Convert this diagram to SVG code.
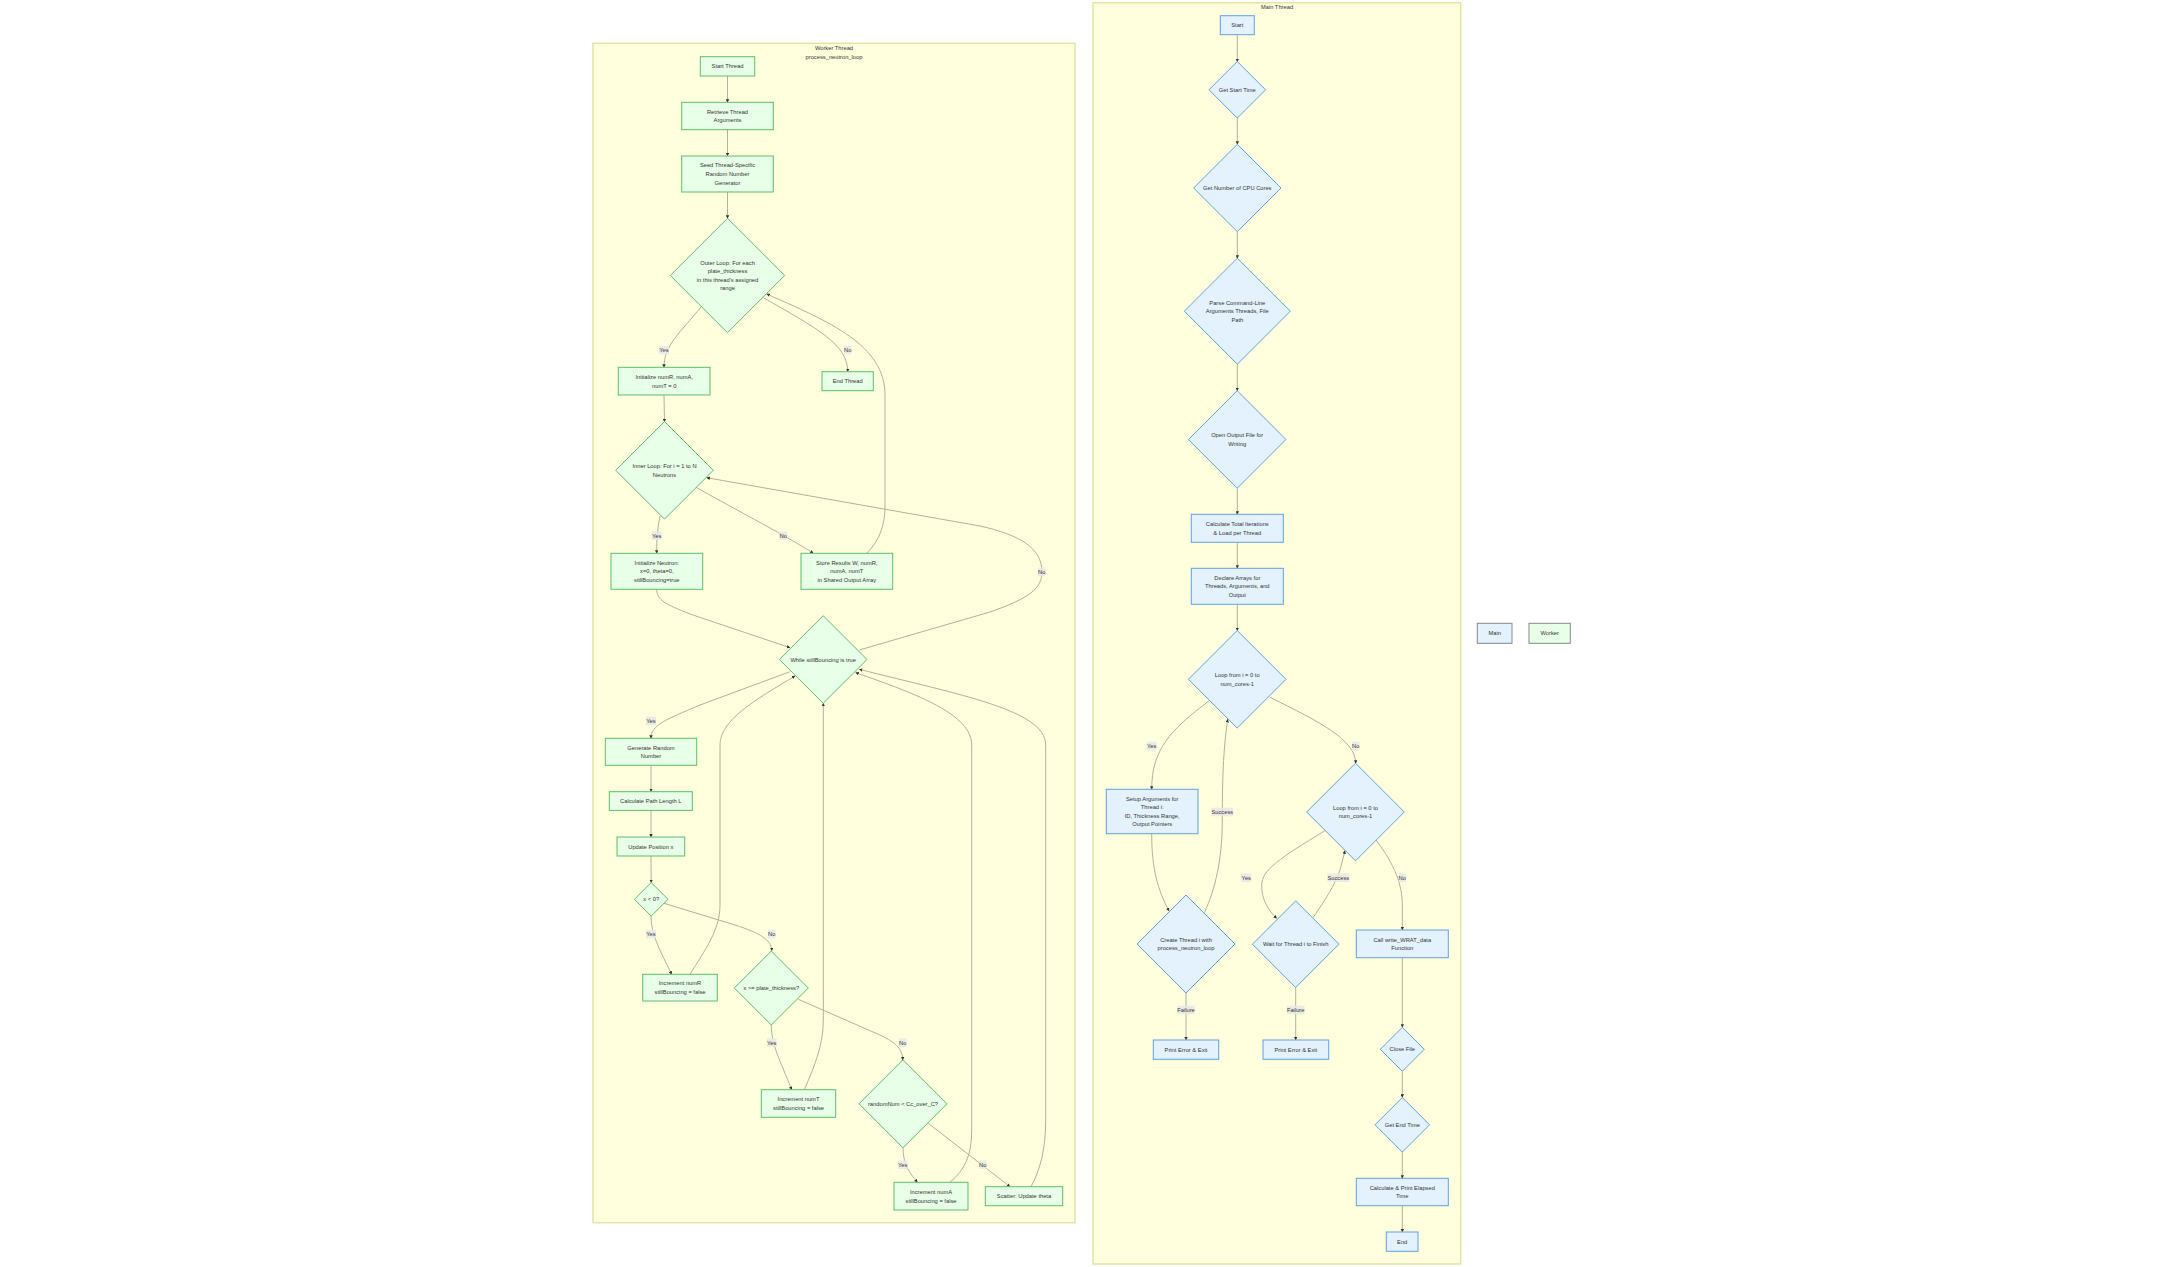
<svg xmlns="http://www.w3.org/2000/svg" width="2163" height="1267" viewBox="0 0 2163 1267">
<style>
text{font-family:"Liberation Sans",Arial,sans-serif;font-size:5.76px;fill:#333;text-anchor:middle;dominant-baseline:central}
.cl{fill:#ffffde;stroke:#e3e3a6;stroke-width:1.5}
.w{fill:#e8ffe8;stroke:#5cbd6a;stroke-width:1}
.m{fill:#e3f2fd;stroke:#5ea2e4;stroke-width:1}
.lg{stroke:#888;stroke-width:1}
.e{fill:none;stroke:#b3b09a;stroke-width:1;marker-end:url(#ah)}
.lb{fill:#e8e8e8;fill-opacity:0.85}
</style>
<defs>
<marker id="ah" viewBox="0 0 10 10" refX="9" refY="5" markerUnits="userSpaceOnUse" markerWidth="3.5" markerHeight="3.5" orient="auto">
<path d="M0,0 L10,5 L0,10 z" fill="#333"/>
</marker>
</defs>
<rect width="2163" height="1267" fill="#ffffff"/>
<g id="cluster-worker">
<rect class="cl" x="593" y="43.3" width="482" height="1179.4"/>
<text x="834" y="48">Worker Thread</text>
<text x="834" y="57">process_neutron_loop</text>
</g>
<g id="cluster-main">
<rect class="cl" x="1093" y="2.7" width="367.7" height="1261.3"/>
<text x="1277" y="7">Main Thread</text>
</g>
<g id="connectors">
<path class="e" d="M727.5,76 L727.5,102.3"/>
<path class="e" d="M727.5,129.7 L727.5,156"/>
<path class="e" d="M727.5,192 L727.5,218.3"/>
<path class="e" d="M701,307 C680,333 664,345 664,367.3"/>
<path class="e" d="M763.3,297.7 C820,330 847.7,345 847.7,371.7"/>
<path class="e" d="M866.7,553.3 C880,540 885,525 885,505 L885,395 C885,345 830,322 766.7,294"/>
<path class="e" d="M664,395 L664.5,421.7"/>
<path class="e" d="M660,516 C657,530 656.7,540 656.7,553.3"/>
<path class="e" d="M696,487.3 C740,512 790,538 813.3,553.3"/>
<path class="e" d="M656.7,589.3 C656.7,600 665,604 690,614 L790,647.7"/>
<path class="e" d="M859.3,650 L990,612 C1030,598 1042,588 1042,572 C1042,548 1020,535 980,526 L706.7,477.7"/>
<path class="e" d="M790,671.7 L700,705 C665,720 651,725 651,738.3"/>
<path class="e" d="M651,765.3 L651,791.7"/>
<path class="e" d="M651,810.3 L651,837"/>
<path class="e" d="M651,856 L651.2,882.7"/>
<path class="e" d="M651,916 C651,935 660,950 671.7,974.3"/>
<path class="e" d="M664,903.3 L735,925 C760,933 771.7,940 771.7,950.7"/>
<path class="e" d="M690,974.3 C705,950 720,930 720,905 L720,745 C720,720 755,700 795,676"/>
<path class="e" d="M771.3,1025 C771.3,1045 780,1060 791.7,1089.7"/>
<path class="e" d="M798.3,999.3 L880,1035 C897,1043 902.7,1050 902.7,1060"/>
<path class="e" d="M804.3,1089.7 C815,1065 823.3,1045 823.3,1020 L823.3,703.3"/>
<path class="e" d="M903,1147.7 C903,1165 910,1173 917.3,1182.3"/>
<path class="e" d="M928.3,1123.3 L1010,1186.7"/>
<path class="e" d="M950,1182.3 C965,1170 971.7,1155 971.7,1130 L971.7,745 C971.7,715 920,695 855.7,672.7"/>
<path class="e" d="M1031,1186.7 C1040,1170 1045.7,1150 1045.7,1120 L1045.7,745 C1045.7,710 960,695 859.3,669.3"/>
<path class="e" d="M1237.3,34.7 L1237.3,61.7"/>
<path class="e" d="M1237.3,118 L1237.3,144.3"/>
<path class="e" d="M1237.3,231.7 L1237.3,258.3"/>
<path class="e" d="M1237.3,364 L1237.3,390.7"/>
<path class="e" d="M1237.3,488.3 L1237.3,514.3"/>
<path class="e" d="M1237.3,542.3 L1237.3,568.3"/>
<path class="e" d="M1237.3,604.3 L1237.3,630.7"/>
<path class="e" d="M1209,701 C1170,730 1151.7,750 1151.7,789.3"/>
<path class="e" d="M1270,697.3 C1320,722 1355.7,740 1355.7,763.3"/>
<path class="e" d="M1151.7,833.7 C1151.7,870 1158,890 1169,911"/>
<path class="e" d="M1204.3,912.7 C1215,890 1222.3,860 1222.3,820 C1222.3,770 1224,745 1227.7,719.3"/>
<path class="e" d="M1186,992.7 L1186,1040"/>
<path class="e" d="M1325,830.7 C1280,858 1261.7,870 1261.7,885 C1261.7,900 1268,910 1276.7,918.3"/>
<path class="e" d="M1313.3,917.3 C1325,900 1335,885 1340,870 L1345,850.7"/>
<path class="e" d="M1376,840 C1395,865 1402.3,885 1402.3,905 L1402.3,930"/>
<path class="e" d="M1295.7,987.3 L1295.7,1040"/>
<path class="e" d="M1402.3,957.7 L1402.3,1027.3"/>
<path class="e" d="M1402.3,1071.3 L1402.3,1097.5"/>
<path class="e" d="M1402.3,1152.1 L1402.3,1178.3"/>
<path class="e" d="M1402.3,1205.7 L1402.3,1232"/>
</g>
<g id="edge-labels">
<rect class="lb" x="659" y="345.7" width="10" height="8.6"/><text x="664" y="350">Yes</text>
<rect class="lb" x="844" y="345.7" width="7.4" height="8.6"/><text x="847.7" y="350">No</text>
<rect class="lb" x="651.7" y="531.4" width="10" height="8.6"/><text x="656.7" y="535.7">Yes</text>
<rect class="lb" x="779.6" y="531.4" width="7.4" height="8.6"/><text x="783.3" y="535.7">No</text>
<rect class="lb" x="1038" y="567.7" width="7.4" height="8.6"/><text x="1041.7" y="572">No</text>
<rect class="lb" x="646" y="716.7" width="10" height="8.6"/><text x="651" y="721">Yes</text>
<rect class="lb" x="646" y="929.7" width="10" height="8.6"/><text x="651" y="934">Yes</text>
<rect class="lb" x="768" y="929.7" width="7.4" height="8.6"/><text x="771.7" y="934">No</text>
<rect class="lb" x="766.7" y="1038.4" width="10" height="8.6"/><text x="771.7" y="1042.7">Yes</text>
<rect class="lb" x="899" y="1038.4" width="7.4" height="8.6"/><text x="902.7" y="1042.7">No</text>
<rect class="lb" x="897.7" y="1160.4" width="10" height="8.6"/><text x="902.7" y="1164.7">Yes</text>
<rect class="lb" x="979" y="1160.4" width="7.4" height="8.6"/><text x="982.7" y="1164.7">No</text>
<rect class="lb" x="1146.7" y="741.7" width="10" height="8.6"/><text x="1151.7" y="746">Yes</text>
<rect class="lb" x="1352" y="741.7" width="7.4" height="8.6"/><text x="1355.7" y="746">No</text>
<rect class="lb" x="1211.4" y="807.7" width="21.8" height="8.6"/><text x="1222.3" y="812">Success</text>
<rect class="lb" x="1177.2" y="1005.7" width="17.6" height="8.6"/><text x="1186" y="1010">Failure</text>
<rect class="lb" x="1241.3" y="873.4" width="10" height="8.6"/><text x="1246.3" y="877.7">Yes</text>
<rect class="lb" x="1327.4" y="873.4" width="21.8" height="8.6"/><text x="1338.3" y="877.7">Success</text>
<rect class="lb" x="1398.6" y="873.4" width="7.4" height="8.6"/><text x="1402.3" y="877.7">No</text>
<rect class="lb" x="1286.9" y="1005.7" width="17.6" height="8.6"/><text x="1295.7" y="1010">Failure</text>
</g>
<g id="w-start"><rect class="w" x="700.3" y="56.7" width="54.4" height="19.3"/><text x="727.5" y="66.3">Start Thread</text></g>
<g id="w-retrieve"><rect class="w" x="681.7" y="102.3" width="91.6" height="27.4"/><text x="727.5" y="111.7">Retrieve Thread</text><text x="727.5" y="120.3">Arguments</text></g>
<g id="w-seed"><rect class="w" x="681.7" y="156" width="91.6" height="36"/><text x="727.5" y="165.4">Seed Thread-Specific</text><text x="727.5" y="174">Random Number</text><text x="727.5" y="182.6">Generator</text></g>
<g id="w-outer"><polygon class="w" points="727.5,218.3 784.7,275.5 727.5,332.7 670.3,275.5"/><text x="727.5" y="262.6">Outer Loop: For each</text><text x="727.5" y="271.2">plate_thickness</text><text x="727.5" y="279.8">in this thread's assigned</text><text x="727.5" y="288.4">range</text></g>
<g id="w-initnum"><rect class="w" x="618.3" y="367.3" width="91.7" height="27.7"/><text x="664.2" y="376.9">Initialize numR, numA,</text><text x="664.2" y="385.5">numT = 0</text></g>
<g id="w-end"><rect class="w" x="822" y="371.7" width="51.3" height="19"/><text x="847.7" y="381.2">End Thread</text></g>
<g id="w-inner"><polygon class="w" points="664.5,421.5 713.3,470.3 664.5,519.1 615.7,470.3"/><text x="664.5" y="466">Inner Loop: For i = 1 to N</text><text x="664.5" y="474.6">Neutrons</text></g>
<g id="w-initneutron"><rect class="w" x="611" y="553.3" width="91.7" height="36"/><text x="656.8" y="562.7">Initialize Neutron:</text><text x="656.8" y="571.3">x=0, theta=0,</text><text x="656.8" y="579.9">stillBouncing=true</text></g>
<g id="w-store"><rect class="w" x="801" y="553.3" width="91.7" height="36"/><text x="846.8" y="562.7">Store Results W, numR,</text><text x="846.8" y="571.3">numA, numT</text><text x="846.8" y="579.9">in Shared Output Array</text></g>
<g id="w-while"><polygon class="w" points="823.2,615.7 867,659.5 823.2,703.3 779.4,659.5"/><text x="823.2" y="659.8">While stillBouncing is true</text></g>
<g id="w-gen"><rect class="w" x="605.3" y="738.3" width="91.4" height="27"/><text x="651" y="747.5">Generate Random</text><text x="651" y="756.1">Number</text></g>
<g id="w-path"><rect class="w" x="609.3" y="791.7" width="83" height="18.7"/><text x="650.8" y="801">Calculate Path Length L</text></g>
<g id="w-update"><rect class="w" x="617" y="837" width="67.7" height="19"/><text x="650.8" y="846.5">Update Position x</text></g>
<g id="w-xlt0"><polygon class="w" points="651.2,882.5 668,899.3 651.2,916.1 634.4,899.3"/><text x="651.2" y="899.3">x &lt; 0?</text></g>
<g id="w-numr"><rect class="w" x="642.7" y="974.3" width="74.6" height="26.7"/><text x="680" y="983.4">Increment numR</text><text x="680" y="992">stillBouncing = false</text></g>
<g id="w-xeq"><polygon class="w" points="771.3,951 808.3,988 771.3,1025 734.3,988"/><text x="771.3" y="988">x &gt;= plate_thickness?</text></g>
<g id="w-numt"><rect class="w" x="761.3" y="1089.7" width="74.4" height="27.6"/><text x="798.5" y="1099.2">Increment numT</text><text x="798.5" y="1107.8">stillBouncing = false</text></g>
<g id="w-rand"><polygon class="w" points="903,1059.8 947,1103.8 903,1147.8 859,1103.8"/><text x="903" y="1104">randomNum &lt; Cc_over_C?</text></g>
<g id="w-numa"><rect class="w" x="894" y="1182.3" width="74" height="27.7"/><text x="931" y="1191.9">Increment numA</text><text x="931" y="1200.5">stillBouncing = false</text></g>
<g id="w-scatter"><rect class="w" x="985.3" y="1186.7" width="77.4" height="19"/><text x="1024" y="1196.2">Scatter: Update theta</text></g>
<g id="m-start"><rect class="m" x="1220.3" y="15.7" width="34" height="19"/><text x="1237.3" y="25.2">Start</text></g>
<g id="m-gst"><polygon class="m" points="1237.3,61.5 1265.6,89.8 1237.3,118.1 1209,89.8"/><text x="1237.3" y="89.8">Get Start Time</text></g>
<g id="m-cpu"><polygon class="m" points="1237.3,144.3 1281,188 1237.3,231.7 1193.6,188"/><text x="1237.3" y="188">Get Number of CPU Cores</text></g>
<g id="m-parse"><polygon class="m" points="1237.3,258.2 1290.3,311.2 1237.3,364.2 1184.3,311.2"/><text x="1237.3" y="302.6">Parse Command-Line</text><text x="1237.3" y="311.2">Arguments Threads, File</text><text x="1237.3" y="319.8">Path</text></g>
<g id="m-open"><polygon class="m" points="1237.2,390.7 1286,439.5 1237.2,488.3 1188.4,439.5"/><text x="1237.2" y="435.2">Open Output File for</text><text x="1237.2" y="443.8">Writing</text></g>
<g id="m-calc"><rect class="m" x="1191.3" y="514.3" width="92" height="28"/><text x="1237.3" y="524">Calculate Total Iterations</text><text x="1237.3" y="532.6">&amp; Load per Thread</text></g>
<g id="m-declare"><rect class="m" x="1191.3" y="568.3" width="92" height="36"/><text x="1237.3" y="577.7">Declare Arrays for</text><text x="1237.3" y="586.3">Threads, Arguments, and</text><text x="1237.3" y="594.9">Output</text></g>
<g id="m-loop1"><polygon class="m" points="1237.2,630.5 1286,679.3 1237.2,728.1 1188.4,679.3"/><text x="1237.2" y="675">Loop from i = 0 to</text><text x="1237.2" y="683.6">num_cores-1</text></g>
<g id="m-setup"><rect class="m" x="1106.3" y="789.3" width="91.7" height="44.4"/><text x="1152.2" y="798.6">Setup Arguments for</text><text x="1152.2" y="807.2">Thread i:</text><text x="1152.2" y="815.8">ID, Thickness Range,</text><text x="1152.2" y="824.4">Output Pointers</text></g>
<g id="m-create"><polygon class="m" points="1186,895 1235,944 1186,993 1137,944"/><text x="1186" y="939.7">Create Thread i with</text><text x="1186" y="948.3">process_neutron_loop</text></g>
<g id="m-err1"><rect class="m" x="1153.3" y="1040" width="65.4" height="19.3"/><text x="1186" y="1049.7">Print Error &amp; Exit</text></g>
<g id="m-loop2"><polygon class="m" points="1355.5,763.2 1404.3,812 1355.5,860.8 1306.7,812"/><text x="1355.5" y="807.7">Loop from i = 0 to</text><text x="1355.5" y="816.3">num_cores-1</text></g>
<g id="m-wait"><polygon class="m" points="1295.7,900.9 1339,944.2 1295.7,987.5 1252.4,944.2"/><text x="1295.7" y="944.2">Wait for Thread i to Finish</text></g>
<g id="m-err2"><rect class="m" x="1263" y="1040" width="65.7" height="19.3"/><text x="1295.8" y="1049.7">Print Error &amp; Exit</text></g>
<g id="m-write"><rect class="m" x="1356.3" y="930" width="92" height="27.7"/><text x="1402.3" y="939.5">Call write_WRAT_data</text><text x="1402.3" y="948.1">Function</text></g>
<g id="m-close"><polygon class="m" points="1402.3,1027.3 1424.3,1049.3 1402.3,1071.3 1380.3,1049.3"/><text x="1402.3" y="1049.3">Close File</text></g>
<g id="m-get"><polygon class="m" points="1402.3,1097.5 1429.6,1124.8 1402.3,1152.1 1375,1124.8"/><text x="1402.3" y="1124.8">Get End Time</text></g>
<g id="m-elapsed"><rect class="m" x="1356.3" y="1178.3" width="92" height="27.4"/><text x="1402.3" y="1187.7">Calculate &amp; Print Elapsed</text><text x="1402.3" y="1196.3">Time</text></g>
<g id="m-end"><rect class="m" x="1386.3" y="1232" width="31.7" height="19.3"/><text x="1402.2" y="1241.7">End</text></g>
<g id="legend-main"><rect class="lg" fill="#e3f2fd" x="1477.3" y="623.3" width="34.7" height="20"/><text x="1494.7" y="633.3">Main</text></g>
<g id="legend-worker"><rect class="lg" fill="#e8ffe8" x="1529" y="623.3" width="41.3" height="20"/><text x="1549.7" y="633.3">Worker</text></g>
</svg>
